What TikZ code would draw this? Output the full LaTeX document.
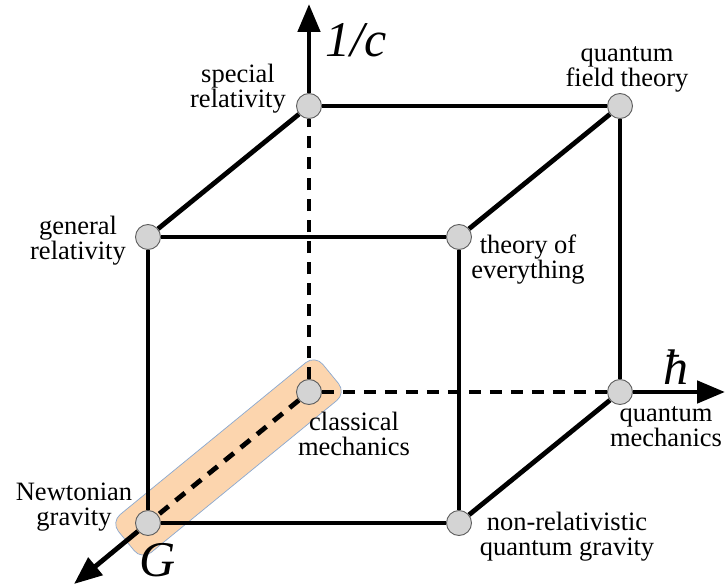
\documentclass[tikz,border=0pt]{standalone}
\usepackage{fontspec}
\setmainfont{Liberation Serif}
\usetikzlibrary{arrows.meta,positioning,calc}
\definecolor{peach}{HTML}{FCD5AE}
\definecolor{peachline}{HTML}{8AA8D0}
\definecolor{dotgray}{HTML}{D4D4D4}
\definecolor{rimgray}{HTML}{5E5E5E}
\pgfdeclarelayer{band}
\pgfdeclarelayer{wires}
\pgfsetlayers{band,wires,main}

\begin{document}
\begin{tikzpicture}[x=1pt, y=-1pt,
  >={Triangle[length=28pt,width=22pt]},
  vertex/.style={circle, draw=rimgray, line width=0.9pt, fill=dotgray,
                 minimum size=25pt, inner sep=0pt},
  edge/.style={line width=4.8pt, black},
  hidden/.style={edge, dash pattern=on 12pt off 9pt},
  axis/.style={->, line width=4.8pt, black},
  lbl/.style={align=center, inner sep=0pt, font=\fontsize{26.5}{25}\selectfont},
  axlbl/.style={inner sep=0pt, font=\fontsize{50}{50}\selectfont\itshape}
]
\useasboundingbox (0,0) rectangle (726,588);
% back face
\node[vertex] (cm)  at (309,392) {};
\node[vertex] (qm)  at (620,392) {};
\node[vertex] (sr)  at (309,106) {};
\node[vertex] (qft) at (620,106) {};
% front face
\node[vertex] (ng)  at (148,523) {};
\node[vertex] (nrq) at (459,523) {};
\node[vertex] (gr)  at (148,237) {};
\node[vertex] (toe) at (459,237) {};
% axis ends
\coordinate (ctip) at (309,4);
\coordinate (htip) at (725,392);
\coordinate (gtip) at (74,584);
% highlighted edge
\begin{pgfonlayer}{band}
\node[rotate=39.3, rounded corners=12pt, minimum width=264pt, minimum height=49pt,
      fill=peach, draw=peachline, line width=0.7pt] (hl) at ($(ng)!0.5!(cm)$) {};
\end{pgfonlayer}
\begin{pgfonlayer}{wires}
\draw[edge] (sr) -- (qft);
\draw[edge] (qft) -- (qm);
\draw[edge] (gr) -- (toe);
\draw[edge] (toe) -- (nrq);
\draw[edge] (nrq) -- (ng);
\draw[edge] (ng) -- (gr);
\draw[edge] (gr) -- (sr);
\draw[edge] (toe) -- (qft);
\draw[edge] (nrq) -- (qm);
\draw[hidden] (cm) -- (sr);
\draw[hidden] (cm) -- (qm);
\draw[hidden] (cm) -- (ng);
\draw[axis] (sr) -- (ctip);
\draw[axis] (qm) -- (htip);
\draw[axis] (ng) -- (gtip);
\end{pgfonlayer}
% axis labels
\node[axlbl] (cax) at (356,40)  {1/c};
\node[axlbl] (hax) at (676,367) {ħ};
\node[axlbl, anchor=base] (gax) at (158,576) {G};
% vertex labels
\node[lbl] (sr-l)  at (238,89)  {special\\relativity};
\node[lbl] (qft-l) at (627,69)  {quantum\\field theory};
\node[lbl] (gr-l)  at (78,241)  {general\\relativity};
\node[lbl] (toe-l) at (528,260) {theory of\\everything};
\node[lbl] (cm-l)  at (354,434) {classical\\mechanics};
\node[lbl] (qm-l)  at (666,427) {quantum\\mechanics};
\node[lbl] (ng-l)  at (74,507)  {Newtonian\\gravity};
\node[lbl] (nrq-l) at (567,537) {non-relativistic\\quantum gravity};
\end{tikzpicture}
\end{document}
